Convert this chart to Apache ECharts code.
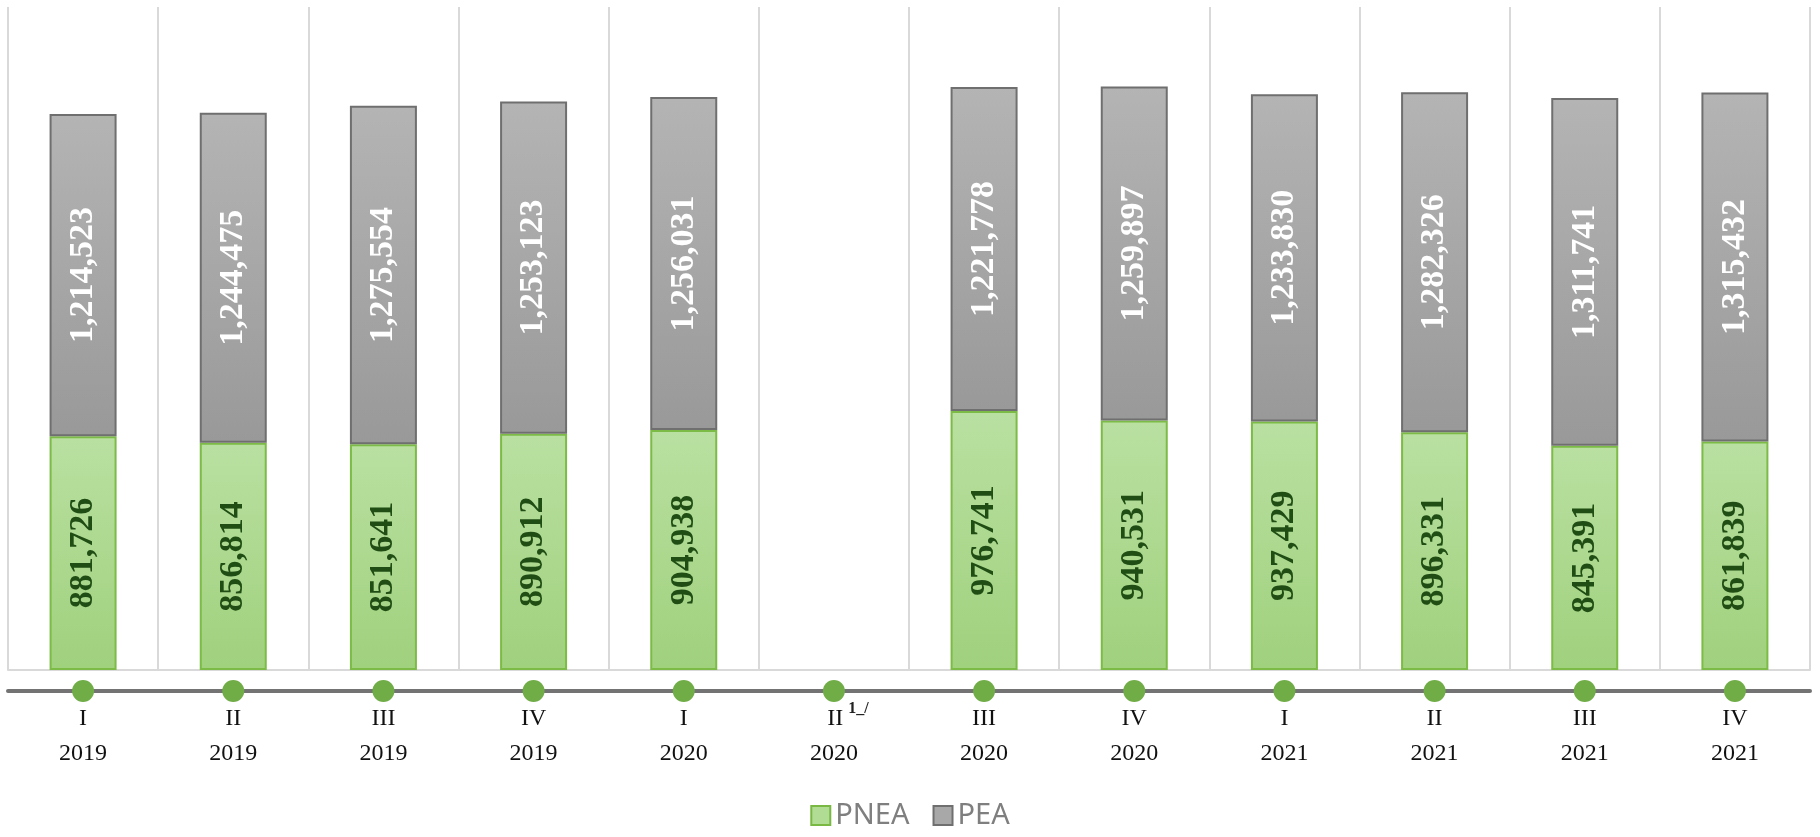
<!DOCTYPE html>
<html>
<head>
<meta charset="utf-8">
<script src="https://cdn.jsdelivr.net/npm/echarts@6/dist/echarts.min.js"></script>
<style>
html,body{margin:0;padding:0;background:#fff;}
#chart{width:1820px;height:837px;}
</style>
</head>
<body>
<div id="chart"></div>
<script>
var quarters = ['I','II','III','IV','I','II','III','IV','I','II','III','IV'];
var years = ['2019','2019','2019','2019','2020','2020','2020','2020','2021','2021','2021','2021'];
var footnotes = ['','','','','','1_/','','','','','',''];
var pnea = [881726, 856814, 851641, 890912, 904938, null, 976741, 940531, 937429, 896331, 845391, 861839];
var pea = [1214523, 1244475, 1275554, 1253123, 1256031, null, 1221778, 1259897, 1233830, 1282326, 1311741, 1315432];
var markerLevel = [0,0,0,0,0,0,0,0,0,0,0,0];

var categories = quarters.map(function(q,i){ return q + ' ' + years[i]; });

var chart = echarts.init(document.getElementById('chart'));
function fmt(p){ return p.value == null ? '' : Number(p.value).toLocaleString('en-US'); }

chart.setOption({
  animation: false,
  grid: [
    {left: 8, right: 10, top: 7, bottom: 167},
    {left: 8, right: 10, top: 690, height: 1}
  ],
  legend: {
    bottom: 2,
    left: 'center',
    itemWidth: 19,
    itemHeight: 19,
    itemGap: 23,
    textStyle: {fontFamily: 'Noto Sans', fontSize: 29, color: '#7f7f7f'},
    data: [
      {name: 'PNEA', icon: 'rect', itemStyle: {color: '#b0dc94', borderColor: '#78b843', borderWidth: 2}},
      {name: 'PEA', icon: 'rect', itemStyle: {color: '#a8a8a8', borderColor: '#6f6f6f', borderWidth: 2}}
    ]
  },
  xAxis: [
    {
      type: 'category', gridIndex: 0, data: categories, boundaryGap: true,
      axisLine: {show: true, lineStyle: {color: '#d9d9d9', width: 2}},
      axisTick: {show: false}, axisLabel: {show: false},
      splitLine: {show: true, lineStyle: {color: '#d9d9d9', width: 2}}
    },
    {
      type: 'category', gridIndex: 1, data: categories, boundaryGap: true,
      axisLine: {show: true, lineStyle: {color: '#737373', width: 4}},
      axisTick: {show: false},
      axisLabel: {
        margin: 10,
        interval: 0,
        formatter: function(v, i){
          var fn = footnotes[i];
          if (fn) return '{pad|}{q|' + quarters[i] + '}{s|' + fn + '}\n{y|' + years[i] + '}';
          return '{q|' + quarters[i] + '}\n{y|' + years[i] + '}';
        },
        rich: {
          q: {fontFamily: 'Liberation Serif', fontSize: 24, color: '#111', lineHeight: 35},
          y: {fontFamily: 'Liberation Serif', fontSize: 24, color: '#111', lineHeight: 35},
          s: {fontFamily: 'Liberation Serif', fontSize: 16, fontWeight: 'bold', color: '#222', lineHeight: 35, verticalAlign: 'top', padding: [0,0,0,5]},
          pad: {width: 28, lineHeight: 35}
        }
      },
      splitLine: {show: false}
    }
  ],
  yAxis: [
    {type: 'value', gridIndex: 0, min: 0, max: 2500000, show: false, splitLine: {show: false}},
    {type: 'value', gridIndex: 1, min: 0, max: 1, show: false, splitLine: {show: false}}
  ],
  series: [
    {
      name: 'PNEA', type: 'bar', stack: 'total', xAxisIndex: 0, yAxisIndex: 0,
      barWidth: 67, data: pnea,
      itemStyle: {
        color: new echarts.graphic.LinearGradient(0,0,0,1,[{offset:0,color:'#b9e0a1'},{offset:1,color:'#a0d17d'}]),
        borderColor: '#7cbb45', borderWidth: 2
      },
      label: {
        show: true, position: 'inside', rotate: 90, formatter: fmt,
        fontFamily: 'Liberation Serif', fontWeight: 'bold', fontSize: 34, color: '#1f4d14'
      }
    },
    {
      name: 'PEA', type: 'bar', stack: 'total', xAxisIndex: 0, yAxisIndex: 0,
      barWidth: 67, data: pea,
      itemStyle: {
        color: new echarts.graphic.LinearGradient(0,0,0,1,[{offset:0,color:'#b4b4b4'},{offset:1,color:'#999999'}]),
        borderColor: '#6f6f6f', borderWidth: 2
      },
      label: {
        show: true, position: 'inside', rotate: 90, formatter: fmt,
        fontFamily: 'Liberation Serif', fontWeight: 'bold', fontSize: 34, color: '#ffffff'
      }
    },
    {
      name: 'markers', type: 'scatter', xAxisIndex: 1, yAxisIndex: 1,
      data: markerLevel, symbol: 'circle', symbolSize: 22,
      itemStyle: {color: '#70ad47', opacity: 1}, silent: true, z: 5
    }
  ]
});
</script>
</body>
</html>
